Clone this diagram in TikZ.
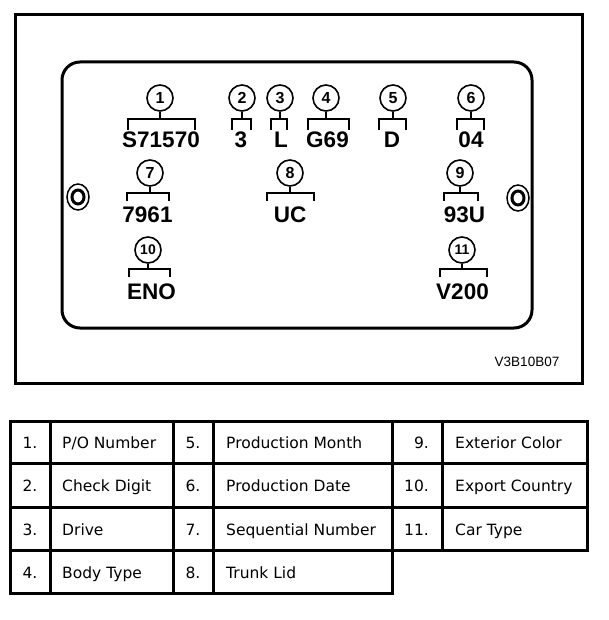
\documentclass[tikz,border=0pt]{standalone}
\usepackage{fontspec}
\setmainfont{DejaVu Sans}
\newfontfamily\platefont{Liberation Sans}
\usepackage{tikz}
\usetikzlibrary{positioning}

\tikzset{
  tagnum/.style={draw, circle, minimum size=26pt, inner sep=0pt, line width=1.6pt,
    font=\platefont\bfseries\fontsize{16}{16}\selectfont},
  tagcode/.style={inner sep=0pt, font=\platefont\bfseries\fontsize{22.5}{22.5}\selectfont},
  brk/.style={line width=2pt},
  boxline/.style={line width=3pt},
  cellnum/.style={inner sep=0pt, anchor=base, font=\fontsize{15.5}{16}\selectfont},
  celltxt/.style={inner sep=0pt, anchor=base west, font=\fontsize{15.5}{16}\selectfont},
}

\begin{document}
\begin{tikzpicture}[x=1pt, y=-1pt]
    \useasboundingbox (0,0) rectangle (608,620);

    % Frame and plate
    \draw[boxline] (15,15) rectangle (582,383);
    \draw[boxline, rounded corners=18pt] (62,62) rectangle (532,328);

    % Screws
    \draw[line width=1.5pt] (78,197) ellipse [x radius=11pt, y radius=13pt];
    \draw[line width=3pt] (78,197) ellipse [x radius=6pt, y radius=7pt];
    \draw[line width=1.5pt] (518,198) ellipse [x radius=11pt, y radius=13pt];
    \draw[line width=3pt] (518,198) ellipse [x radius=6pt, y radius=7pt];

    % Numbers
    \node[tagnum] (c1) at (160,98) {1};
    \node[tagnum] (c2) at (242,98) {2};
    \node[tagnum] (c3) at (280,98) {3};
    \node[tagnum] (c4) at (326,98) {4};
    \node[tagnum] (c5) at (393,98) {5};
    \node[tagnum] (c6) at (471,98) {6};
    \node[tagnum] (c7) at (150,173) {7};
    \node[tagnum] (c8) at (290,173) {8};
    \node[tagnum] (c9) at (460,173) {9};
    \node[tagnum, font=\platefont\bfseries\fontsize{14}{14}\selectfont] (c10) at (148,250) {10};
    \node[tagnum, font=\platefont\bfseries\fontsize{14}{14}\selectfont] (c11) at (462,250) {11};

    % Codes
    \node[tagcode] (t1) at (161,140) {S71570};
    \node[tagcode] (t2) at (241,140) {3};
    \node[tagcode] (t3) at (281,140) {L};
    \node[tagcode] (t4) at (327.5,140) {G69};
    \node[tagcode] (t5) at (392,140) {D};
    \node[tagcode] (t6) at (471,140) {04};
    \node[tagcode] (t7) at (147.5,215) {7961};
    \node[tagcode] (t8) at (290,215) {UC};
    \node[tagcode] (t9) at (464.5,215) {93U};
    \node[tagcode] (t10) at (151.5,291.5) {ENO};
    \node[tagcode] (t11) at (462.5,291.5) {V200};

    % Brackets
    \draw[brk] (128,130) |- (195,119) -- (195,130) (c1.south) -- (c1.south |- 0,119);
    \draw[brk] (232,130) |- (251,119) -- (251,130) (c2.south) -- (c2.south |- 0,119);
    \draw[brk] (271,130) |- (287,119) -- (287,130) (c3.south) -- (c3.south |- 0,119);
    \draw[brk] (308,130) |- (349,119) -- (349,130) (c4.south) -- (c4.south |- 0,119);
    \draw[brk] (379,130) |- (406,119) -- (406,130) (c5.south) -- (c5.south |- 0,119);
    \draw[brk] (457,130) |- (484,119) -- (484,130) (c6.south) -- (c6.south |- 0,119);
    \draw[brk] (127,201) |- (169,193) -- (169,201) (c7.south) -- (c7.south |- 0,193);
    \draw[brk] (267,201) |- (314,193) -- (314,201) (c8.south) -- (c8.south |- 0,193);
    \draw[brk] (444,201) |- (478,193) -- (478,201) (c9.south) -- (c9.south |- 0,193);
    \draw[brk] (129,277) |- (170,269) -- (170,277) (c10.south) -- (c10.south |- 0,269);
    \draw[brk] (440,277) |- (487,269) -- (487,277) (c11.south) -- (c11.south |- 0,269);

    \node[inner sep=0pt, font=\platefont\fontsize{13.5}{14}\selectfont] (fig) at (527,362) {V3B10B07};

    % Legend table
    \draw[boxline] (10,421) rectangle (587,550);
    \draw[boxline] (10,550) rectangle (392,593);
    \draw[boxline] (10,463) -- (587,463);
    \draw[boxline] (10,507) -- (587,507);
    \draw[boxline] (50,421) -- (50,593);
    \draw[boxline] (173,421) -- (173,593);
    \draw[boxline] (213,421) -- (213,593);
    \draw[boxline] (392,421) -- (392,593);
    \draw[boxline] (442,421) -- (442,550);

    \node[cellnum] (n1) at (30,448.5) {1.};
    \node[cellnum] (n2) at (30,491.5) {2.};
    \node[cellnum] (n3) at (30,535) {3.};
    \node[cellnum] (n4) at (30,578) {4.};
    \node[cellnum] (n5) at (193,448.5) {5.};
    \node[cellnum] (n6) at (193,491.5) {6.};
    \node[cellnum] (n7) at (193,535) {7.};
    \node[cellnum] (n8) at (193,578) {8.};
    \node[cellnum, anchor=base east] (n9) at (429,448.5) {9.};
    \node[cellnum, anchor=base east] (n10) at (429,491.5) {10.};
    \node[cellnum, anchor=base east] (n11) at (429,535) {11.};

    \node[celltxt] (d1) at (62,448.5) {P/O Number};
    \node[celltxt] (d2) at (62,491.5) {Check Digit};
    \node[celltxt] (d3) at (62,535) {Drive};
    \node[celltxt] (d4) at (62,578) {Body Type};
    \node[celltxt] (d5) at (226,448.5) {Production Month};
    \node[celltxt] (d6) at (226,491.5) {Production Date};
    \node[celltxt] (d7) at (226,535) {Sequential Number};
    \node[celltxt] (d8) at (226,578) {Trunk Lid};
    \node[celltxt] (d9) at (455,448.5) {Exterior Color};
    \node[celltxt] (d10) at (455,491.5) {Export Country};
    \node[celltxt] (d11) at (455,535) {Car Type};
\end{tikzpicture}
\end{document}
